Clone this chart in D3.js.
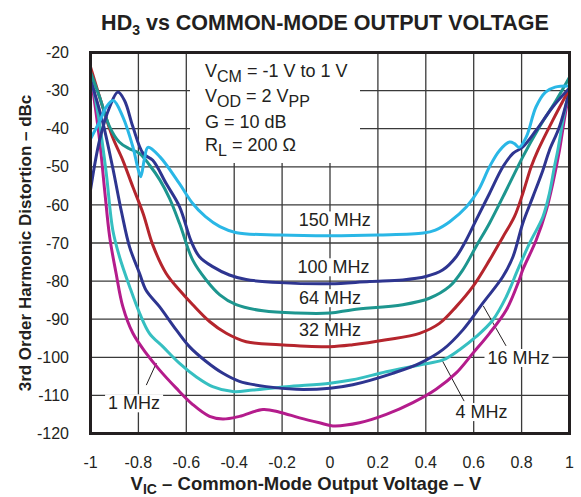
<!DOCTYPE html>
<html>
<head>
<meta charset="utf-8">
<style>
  body { margin: 0; background: #fff; }
  svg text { font-family: "Liberation Sans", Arial, sans-serif; fill: #231f20; }
</style>
</head>
<body>
<svg id="chart" width="581" height="497"></svg>
<script src="https://cdn.jsdelivr.net/npm/d3@7"></script>
<script>
// axis ticks
var xTicks = [-1, -0.8, -0.6, -0.4, -0.2, 0, 0.2, 0.4, 0.6, 0.8, 1];
var xTickLabels = ["-1", "-0.8", "-0.6", "-0.4", "-0.2", "0", "0.2", "0.4", "0.6", "0.8", "1"];
var yTicks = [-20, -30, -40, -50, -60, -70, -80, -90, -100, -110, -120];

// HD3 (dBc) vs VIC (V)
var hd3_150 = [[-1,-42.7],[-0.96,-37.8],[-0.934,-34.3],[-0.905,-32.6],[-0.865,-36.9],[-0.823,-44.8],[-0.8,-50.9],[-0.79,-52.6],[-0.775,-48],[-0.76,-44.9],[-0.71,-47.4],[-0.63,-54.3],[-0.575,-59.5],[-0.52,-63.1],[-0.46,-65.7],[-0.39,-67.3],[-0.21,-67.9],[0,-68.1],[0.2,-67.9],[0.39,-67.4],[0.44,-66.6],[0.5,-64.4],[0.57,-60.5],[0.62,-56.1],[0.666,-50],[0.708,-45.7],[0.75,-43.5],[0.77,-43.9],[0.79,-44.9],[0.82,-42.1],[0.86,-34.3],[0.9,-30.4],[0.94,-29.1],[1,-28.8]];
var hd3_100 = [[-1,-56.1],[-0.962,-43],[-0.92,-34.3],[-0.886,-30.4],[-0.858,-32.6],[-0.823,-39.5],[-0.78,-46.5],[-0.74,-48.3],[-0.684,-54.4],[-0.628,-60.5],[-0.58,-69.5],[-0.545,-73.6],[-0.49,-76.2],[-0.42,-78.4],[-0.35,-79.6],[-0.21,-80.4],[0,-80.7],[0.165,-80.1],[0.304,-79.7],[0.4,-78.8],[0.47,-77.1],[0.527,-73.6],[0.569,-69.2],[0.61,-64],[0.666,-57],[0.722,-50],[0.764,-46.5],[0.805,-44.8],[0.861,-40.4],[0.93,-34.3],[1,-29.3]];
var hd3_64 = [[-1,-25.1],[-0.962,-31.7],[-0.92,-39.5],[-0.88,-43.5],[-0.84,-45.2],[-0.795,-46.5],[-0.753,-49.6],[-0.71,-53.5],[-0.67,-58.3],[-0.628,-64.9],[-0.573,-74.5],[-0.517,-79.7],[-0.46,-83.6],[-0.392,-86.2],[-0.28,-87.8],[-0.14,-88.4],[0,-88.4],[0.095,-87.5],[0.304,-86.2],[0.415,-84.5],[0.499,-81.4],[0.554,-77.1],[0.61,-70.9],[0.666,-64.8],[0.722,-57.9],[0.77,-51.8],[0.805,-47.4],[0.875,-39.5],[0.944,-32.6],[1,-26.5]];
var hd3_32 = [[-1,-23.8],[-0.949,-34.3],[-0.908,-42.2],[-0.865,-48.3],[-0.823,-55.3],[-0.78,-62.3],[-0.74,-70.5],[-0.684,-78],[-0.628,-82.4],[-0.573,-86.2],[-0.503,-90.6],[-0.433,-93.7],[-0.35,-95.9],[-0.21,-96.7],[0,-97.2],[0.095,-96.7],[0.235,-95.4],[0.374,-93.7],[0.457,-91.1],[0.527,-86.7],[0.597,-81.4],[0.666,-74.5],[0.722,-68.4],[0.77,-63.1],[0.805,-57],[0.84,-50],[0.868,-45.7],[0.93,-37.8],[1,-29.5]];
var hd3_16 = [[-1,-27],[-0.95,-38],[-0.908,-50],[-0.87,-62],[-0.837,-71],[-0.795,-78],[-0.768,-82.4],[-0.712,-86.7],[-0.642,-92.8],[-0.587,-97.2],[-0.517,-101.1],[-0.447,-104.2],[-0.378,-106.3],[-0.266,-107.7],[-0.14,-108.4],[0,-108.1],[0.095,-107.2],[0.262,-104.2],[0.374,-101.6],[0.471,-98],[0.555,-92.8],[0.638,-85.8],[0.722,-78.8],[0.764,-73.6],[0.805,-64.8],[0.847,-57.9],[0.889,-50.9],[0.916,-45.7],[0.958,-39.5],[1,-30]];
var hd3_4 = [[-1,-25],[-0.962,-38.7],[-0.934,-51.8],[-0.907,-66.6],[-0.879,-73.6],[-0.837,-81.4],[-0.795,-88.4],[-0.754,-93.7],[-0.698,-97.2],[-0.628,-101.6],[-0.559,-105.1],[-0.49,-107.7],[-0.406,-109],[-0.322,-108.6],[-0.183,-107.7],[0,-106.8],[0.095,-105.9],[0.235,-103.8],[0.374,-102],[0.471,-100.7],[0.541,-98],[0.61,-94.6],[0.68,-90.2],[0.736,-84.1],[0.784,-77],[0.833,-70.1],[0.889,-63.1],[0.916,-57],[0.937,-50],[0.951,-45.7],[0.975,-37],[1,-29.5]];
var hd3_1 = [[-1,-25.5],[-0.962,-43],[-0.941,-56.1],[-0.92,-68.4],[-0.893,-78],[-0.865,-86.7],[-0.823,-93.7],[-0.768,-98.9],[-0.712,-103.3],[-0.642,-108.1],[-0.573,-112.4],[-0.503,-115.5],[-0.447,-116.2],[-0.378,-115.5],[-0.28,-113.7],[-0.21,-114.4],[-0.127,-115.9],[-0.044,-117.2],[0.012,-118],[0.123,-117.2],[0.235,-115],[0.346,-111.9],[0.443,-108.4],[0.527,-104.1],[0.597,-98.9],[0.666,-93.7],[0.736,-87.6],[0.79,-79.7],[0.805,-77],[0.861,-69.2],[0.903,-61.4],[0.93,-54.4],[0.958,-45.7],[0.98,-37],[1,-30]];

var series = [
  { name: "1 MHz",   color: "#b41c8c", values: hd3_1 },
  { name: "4 MHz",   color: "#36bfc1", values: hd3_4 },
  { name: "16 MHz",  color: "#2e3590", values: hd3_16 },
  { name: "32 MHz",  color: "#b5252d", values: hd3_32 },
  { name: "64 MHz",  color: "#1d968f", values: hd3_64 },
  { name: "100 MHz", color: "#2e3590", values: hd3_100 },
  { name: "150 MHz", color: "#2ab7e6", values: hd3_150 }
];

var svg = d3.select("#chart");
var plotL = 90.5, plotR = 569.5, plotT = 52.5, plotB = 433.5;

var x = d3.scaleLinear().domain([-1, 1]).range([plotL, plotR]);
var y = d3.scaleLinear().domain([-120, -20]).range([plotB, plotT]);

// title
var title = svg.append("text")
    .attr("x", 325).attr("y", 30)
    .attr("text-anchor", "middle")
    .style("font-size", "21.5px").style("font-weight", "bold");
title.append("tspan").text("HD");
title.append("tspan").attr("dy", 5).style("font-size", "14px").text("3");
title.append("tspan").attr("dy", -5).text(" vs COMMON-MODE OUTPUT VOLTAGE");

// grid
svg.append("g")
  .selectAll("line").data(xTicks.slice(1, -1)).enter().append("line")
    .attr("x1", function(d) { return x(d); }).attr("x2", function(d) { return x(d); })
    .attr("y1", plotT).attr("y2", plotB)
    .attr("stroke", "#3a3a3a").attr("stroke-width", 1.3);
svg.append("g")
  .selectAll("line").data(yTicks.slice(1, -1)).enter().append("line")
    .attr("y1", function(d) { return y(d); }).attr("y2", function(d) { return y(d); })
    .attr("x1", plotL).attr("x2", plotR)
    .attr("stroke", "#3a3a3a").attr("stroke-width", 1.3);

// conditions box
svg.append("rect").attr("x", 190).attr("y", 54).attr("width", 170).attr("height", 109).attr("fill", "#fff");
var cond = svg.append("g").style("font-size", "18px");
function condLine(yy, main, sub, rest, sub2) {
  var t = cond.append("text").attr("x", 205).attr("y", yy);
  t.append("tspan").text(main);
  if (sub) t.append("tspan").attr("dy", 5).style("font-size", "16px").text(sub);
  t.append("tspan").attr("dy", sub ? -5 : 0).text(rest);
  if (sub2) t.append("tspan").attr("dy", 5).style("font-size", "16px").text(sub2);
}
condLine(77, "V", "CM", " = -1 V to 1 V");
condLine(102, "V", "OD", " = 2 V", "PP");
condLine(128, "G = 10 dB", null, "");
condLine(151, "R", "L", " = 200 \u03A9");

// curve labels with white backing
var labels = [
  { text: "150 MHz", v: 0.02,  db: -64 },
  { text: "100 MHz", v: 0.015, db: -76.3 },
  { text: "64 MHz",  v: 0.0,   db: -84.4 },
  { text: "32 MHz",  v: 0.0,   db: -92.8 },
  { text: "16 MHz",  v: 0.787, db: -100.1 },
  { text: "4 MHz",   v: 0.633, db: -114.3 },
  { text: "1 MHz",   v: -0.818, db: -112 }
];
var leaders = [
  [[0.64, -86.5], [0.735, -97]],
  [[0.47, -101], [0.56, -111.5]],
  [[-0.725, -101.5], [-0.767, -107.3]]
];
var lab = svg.append("g");
labels.forEach(function(l) {
  var bg = lab.append("rect").attr("fill", "#fff");
  var t = lab.append("text")
      .attr("x", x(l.v)).attr("y", y(l.db))
      .attr("text-anchor", "middle").attr("dy", "0.35em")
      .style("font-size", "18px").text(l.text);
  var b = t.node().getBBox();
  bg.attr("x", b.x - 3).attr("y", b.y + 1).attr("width", b.width + 6).attr("height", b.height - 2);
});
lab.selectAll("line.leader").data(leaders).enter().append("line")
    .attr("class", "leader")
    .attr("x1", function(d) { return x(d[0][0]); }).attr("y1", function(d) { return y(d[0][1]); })
    .attr("x2", function(d) { return x(d[1][0]); }).attr("y2", function(d) { return y(d[1][1]); })
    .attr("stroke", "#231f20").attr("stroke-width", 1);

// curves
svg.append("clipPath").attr("id", "plotclip")
  .append("rect").attr("x", plotL).attr("y", plotT).attr("width", plotR - plotL).attr("height", plotB - plotT);

var line = d3.line()
    .curve(d3.curveCatmullRom.alpha(0.5))
    .x(function(d) { return x(d[0]); })
    .y(function(d) { return y(d[1]); });

svg.append("g").attr("clip-path", "url(#plotclip)")
  .selectAll("path").data(series).enter().append("path")
    .attr("d", function(d) { return line(d.values); })
    .attr("fill", "none")
    .attr("stroke", function(d) { return d.color; })
    .attr("stroke-width", 3)
    .attr("stroke-linejoin", "round");

// frame
svg.append("rect")
    .attr("x", plotL).attr("y", plotT).attr("width", plotR - plotL).attr("height", plotB - plotT)
    .attr("fill", "none").attr("stroke", "#231f20").attr("stroke-width", 3);

// tick labels
svg.append("g").selectAll("text").data(xTicks).enter().append("text")
    .attr("x", function(d) { return x(d); }).attr("y", 468)
    .attr("text-anchor", "middle").style("font-size", "16px")
    .text(function(d, i) { return xTickLabels[i]; });
svg.append("g").selectAll("text").data(yTicks).enter().append("text")
    .attr("x", 69).attr("y", function(d) { return y(d); })
    .attr("dy", "0.35em").attr("text-anchor", "end").style("font-size", "16px")
    .text(function(d) { return d; });

// axis titles
var xt = svg.append("text").attr("x", 306).attr("y", 490)
    .attr("text-anchor", "middle").style("font-size", "18.5px").style("font-weight", "bold");
xt.append("tspan").text("V");
xt.append("tspan").attr("dy", 4).style("font-size", "14px").text("IC");
xt.append("tspan").attr("dy", -4).text(" \u2013 Common-Mode Output Voltage \u2013 V");

svg.append("text")
    .attr("transform", "translate(31,243) rotate(-90)")
    .attr("text-anchor", "middle").style("font-size", "17px").style("font-weight", "bold")
    .text("3rd Order Harmonic Distortion \u2013 dBc");
</script>
</body>
</html>
